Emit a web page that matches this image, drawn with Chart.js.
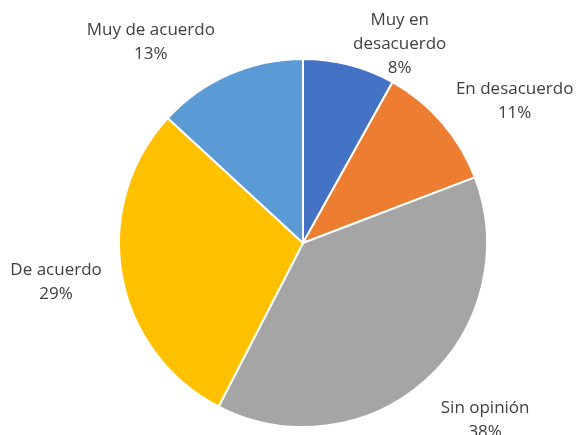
<!DOCTYPE html>
<html>
<head>
<meta charset="utf-8">
<script src="https://cdn.jsdelivr.net/npm/chart.js@4/dist/chart.umd.min.js"></script>
<style>
  html, body { margin: 0; padding: 0; background: #fff; }
  #wrap { width: 582px; height: 435px; position: relative; }
</style>
</head>
<body>
<div id="wrap"><canvas id="c" width="582" height="435"></canvas></div>
<script>
// Survey answers, clockwise from 12 o'clock
const categories = [['Muy en', 'desacuerdo'], 'En desacuerdo', 'Sin opinión', 'De acuerdo', 'Muy de acuerdo'];
const percentages = [8, 11, 38, 29, 13];
const sliceColors = ['#4472C4', '#ED7D31', '#A5A5A5', '#FFC000', '#5B9BD5'];

// Outside labels: angular nudge (degrees) from the slice middle and gap beyond the rim
const labelPlacement = [
  { shift: 11.4, gap: 37 },
  { shift: 7, gap: 71 },
  { shift: -4, gap: 70 },
  { shift: 1, gap: 66 },
  { shift: -13.5, gap: 68 }
];

const outsideLabels = {
  id: 'outsideLabels',
  afterDatasetsDraw(chart) {
    const ctx = chart.ctx;
    const meta = chart.getDatasetMeta(0);
    const lineH = 24;
    ctx.save();
    ctx.font = '17px "Open Sans", sans-serif';
    ctx.fillStyle = '#404040';
    ctx.textAlign = 'center';
    ctx.textBaseline = 'middle';
    meta.data.forEach((arc, i) => {
      const p = arc.getProps(['x', 'y', 'startAngle', 'endAngle', 'outerRadius'], true);
      const mid = (p.startAngle + p.endAngle) / 2 + labelPlacement[i].shift * Math.PI / 180;
      const r = p.outerRadius + labelPlacement[i].gap;
      const cx = p.x + Math.cos(mid) * r;
      const cy = p.y + Math.sin(mid) * r;
      const name = categories[i];
      const lines = (Array.isArray(name) ? name.slice() : [name]);
      lines.push(percentages[i] + '%');
      const top = cy - (lines.length - 1) * lineH / 2;
      lines.forEach((t, k) => ctx.fillText(t, cx, top + k * lineH));
    });
    ctx.restore();
  }
};

new Chart(document.getElementById('c'), {
  type: 'pie',
  data: {
    labels: categories,
    datasets: [{
      data: percentages,
      backgroundColor: sliceColors,
      borderColor: '#ffffff',
      borderWidth: 2
    }]
  },
  options: {
    responsive: false,
    animation: false,
    rotation: 0,
    layout: { padding: { left: 118, right: 94, top: 58, bottom: 7 } },
    plugins: {
      legend: { display: false },
      tooltip: { enabled: false }
    }
  },
  plugins: [outsideLabels]
});
</script>
</body>
</html>
